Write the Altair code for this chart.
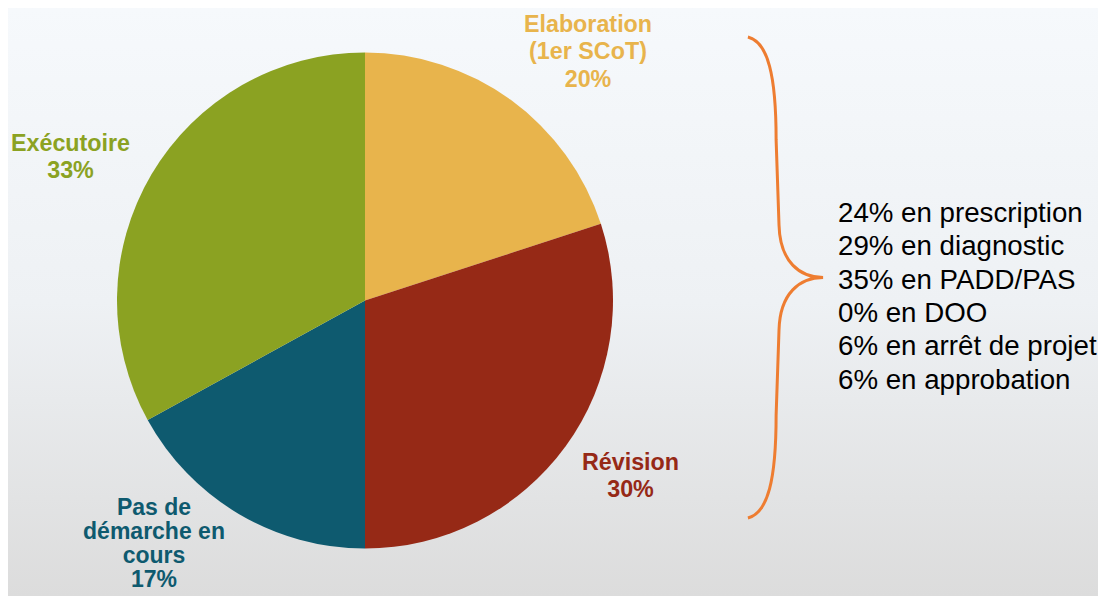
import altair as alt
import pandas as pd

# ---- data ----
categories = ["Elaboration", "Révision", "Pas de démarche en cours", "Exécutoire"]
values = [20, 30, 17, 33]
slice_colors = ["#E8B44C", "#962916", "#0E5A6F", "#8BA222"]
label_texts = [
    "Elaboration\n(1er SCoT)\n20%",
    "Révision\n30%",
    "Pas de\ndémarche en\ncours\n17%",
    "Exécutoire\n33%",
]
detail_lines = [
    "24% en prescription",
    "29% en diagnostic",
    "35% en PADD/PAS",
    "0% en DOO",
    "6% en arrêt de projet",
    "6% en approbation",
]

W, H = 1090, 588
CX, CY, R = 357, 292.5, 248

df = pd.DataFrame({
    "categorie": categories,
    "valeur": values,
    "ordre": list(range(len(categories))),
})

# background gradient
bg = alt.Chart(pd.DataFrame({"a": [0]})).mark_rect(
    fill=alt.Gradient(
        gradient="linear",
        stops=[alt.GradientStop(color="#F6F9FC", offset=0),
               alt.GradientStop(color="#EEF1F4", offset=0.5),
               alt.GradientStop(color="#DCDCDC", offset=1)],
        x1=0, x2=0, y1=0, y2=1,
    )
).encode(x=alt.value(0), x2=alt.value(W), y=alt.value(0), y2=alt.value(H))

# soft shadow under the pie
shadow_layers = []
for dy, extra, op in [(6, 2, 0.05), (4, 1, 0.06), (2, 0, 0.08)]:
    shadow_layers.append(
        alt.Chart(pd.DataFrame({"v": [1]})).mark_arc(
            outerRadius=R + extra, color="#555555", opacity=op
        ).encode(theta=alt.Theta("v:Q"), x=alt.value(CX), y=alt.value(CY + dy))
    )

pie = alt.Chart(df).mark_arc(outerRadius=R).encode(
    theta=alt.Theta("valeur:Q", stack=True),
    order=alt.Order("ordre:Q"),
    color=alt.Color("categorie:N", scale=alt.Scale(domain=categories, range=slice_colors), legend=None),
    x=alt.value(CX),
    y=alt.value(CY),
)

# slice labels (x, y of first line, line height, font size)
label_pos = [(580, 16.5, 27.5, 23.3), (622.5, 454.5, 27, 23.3), (146, 500, 24, 23), (62.5, 136, 27, 23.3)]
label_layers = []
for txt, col, (lx, ly, lh, fs) in zip(label_texts, slice_colors, label_pos):
    label_layers.append(
        alt.Chart(pd.DataFrame({"t": [txt]})).mark_text(
            font="Liberation Sans", fontWeight="bold", fontSize=fs,
            lineBreak="\n", lineHeight=lh, align="center", baseline="middle", color=col,
        ).encode(text="t:N", x=alt.value(lx), y=alt.value(ly))
    )

# curly brace
brace_path = (
    "M -0.158 -0.998 C -0.075 -0.977 -0.041 -0.84 -0.041 -0.571 "
    "L -0.029 -0.218 C -0.025 -0.064 0.058 0 0.154 0 "
    "C 0.058 0 -0.025 0.064 -0.029 0.218 "
    "L -0.041 0.571 C -0.041 0.84 -0.075 0.977 -0.158 0.998"
)
brace = alt.Chart(pd.DataFrame({"b": [1]})).mark_point(
    shape=brace_path, filled=False, stroke="#EE7D31", strokeWidth=3, opacity=1, size=482 ** 2,
).encode(x=alt.value(778), y=alt.value(269.5))

details = alt.Chart(pd.DataFrame({"t": ["\n".join(detail_lines)]})).mark_text(
    font="Liberation Sans", fontSize=27.7, lineBreak="\n", lineHeight=33.3,
    align="left", baseline="middle", color="#000000",
).encode(text="t:N", x=alt.value(830), y=alt.value(206))

chart = alt.layer(bg, *shadow_layers, pie, *label_layers, brace, details).properties(
    width=W, height=H, padding=0, autosize=alt.AutoSizeParams(type="none")
).configure_view(stroke=None).configure(background="#F6F9FC")

chart.save("out.html", embed_options={"renderer": "svg", "actions": False})
